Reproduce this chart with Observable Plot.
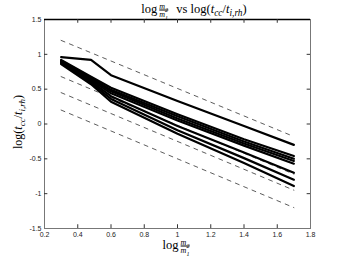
<!DOCTYPE html>
<html><head><meta charset="utf-8">
<script src="https://cdn.jsdelivr.net/npm/d3@7"></script>
<script src="https://cdn.jsdelivr.net/npm/@observablehq/plot@0.6"></script>
<style>
body{margin:0;background:#fff;}
#wrap{position:relative;width:342px;height:258px;overflow:hidden;}
.lbl{position:absolute;font-family:"Liberation Serif","DejaVu Serif",serif;color:#000;white-space:nowrap;line-height:1;}
.frac{display:inline-block;vertical-align:middle;text-align:center;font-size:8px;line-height:7px;margin:0 2px;}
.frac span{display:block;font-style:italic;}
.frac .num{border-bottom:0.8px solid #000;}
i{font-style:italic;}
sub{font-size:75%;vertical-align:-3px;line-height:0;}
</style></head><body><div id="wrap"></div>
<script>
const xTicks = [0.2, 0.4, 0.6, 0.8, 1, 1.2, 1.4, 1.6, 1.8];
const yTicks = [-1.5, -1, -0.5, 0, 0.5, 1, 1.5];
const massRatio = [0.3, 0.48, 0.6, 1.0, 1.4, 1.7];
const run1 = [0.96, 0.92, 0.70, 0.33, -0.03, -0.30];
const run2 = [0.92, 0.68, 0.52, 0.14, -0.22, -0.46];
const run3 = [0.91, 0.66, 0.49, 0.11, -0.25, -0.50];
const run4 = [0.90, 0.65, 0.47, 0.08, -0.28, -0.53];
const run5 = [0.89, 0.63, 0.44, 0.05, -0.31, -0.57];
const run6 = [0.88, 0.61, 0.40, -0.03, -0.41, -0.70];
const run7 = [0.87, 0.59, 0.36, -0.09, -0.49, -0.80];
const run8 = [0.86, 0.57, 0.32, -0.14, -0.56, -0.89];
const refX = [0.3, 1.7];
const ref1 = [1.2, -0.18];
const ref2 = [0.68, -0.72];
const ref3 = [0.45, -0.95];
const ref4 = [0.2, -1.2];

const runs = [run1, run2, run3, run4, run5, run6, run7, run8];
const refs = [ref1, ref2, ref3, ref4];
const runData = runs.flatMap((r, i) => r.map((v, j) => ({series: "run" + (i + 1), x: massRatio[j], y: v})));
const refData = refs.flatMap((r, i) => r.map((v, j) => ({series: "ref" + (i + 1), x: refX[j], y: v})));

const xd = [xTicks[0], xTicks[xTicks.length - 1]];
const yd = [yTicks[0], yTicks[yTicks.length - 1]];
const tx = (xd[1] - xd[0]) * 0.018;
const ty = (yd[1] - yd[0]) * 0.018;

const chart = Plot.plot({
  width: 342, height: 258,
  marginTop: 19, marginBottom: 30, marginLeft: 44, marginRight: 32,
  x: {domain: xd},
  y: {domain: yd},
  style: {fontFamily: "'Liberation Sans', Arial, sans-serif", fontSize: "7px", background: "white"},
  marks: [
    Plot.axisX(xTicks, {anchor: "bottom", tickSize: 0, tickPadding: 4, tickFormat: d => String(d), label: null, fontSize: 7, fill: "#222"}),
    Plot.axisY(yTicks, {anchor: "left", tickSize: 0, tickPadding: 3, tickFormat: d => String(d), label: null, fontSize: 7, fill: "#222"}),
    Plot.line(refData, {x: "x", y: "y", z: "series", stroke: "#333", strokeWidth: 0.8, strokeDasharray: "4,5"}),
    Plot.line(runData, {x: "x", y: "y", z: "series", stroke: "black", strokeWidth: 2.2, strokeLinejoin: "round"}),
    Plot.frame({stroke: "#777", strokeWidth: 1}),
    Plot.ruleY([yd[1]], {stroke: "black", strokeWidth: 1.6}),
    Plot.ruleX(xTicks.slice(1, -1), {x: d => d, y1: yd[0], y2: yd[0] + ty, stroke: "#333"}),
    Plot.ruleX(xTicks.slice(1, -1), {x: d => d, y1: yd[1], y2: yd[1] - ty, stroke: "#333"}),
    Plot.ruleY(yTicks.slice(1, -1), {y: d => d, x1: xd[0], x2: xd[0] + tx * 0.7, stroke: "#333"}),
    Plot.ruleY(yTicks.slice(1, -1), {y: d => d, x1: xd[1], x2: xd[1] - tx * 0.7, stroke: "#333"})
  ]
});
const wrap = document.getElementById("wrap");
wrap.appendChild(chart);

function addLabel(html, left, top, size, rotate) {
  const d = document.createElement("div");
  d.className = "lbl";
  d.innerHTML = html;
  d.style.fontSize = size + "px";
  d.style.left = left + "px";
  d.style.top = top + "px";
  d.style.transform = "translate(-50%,-50%)" + (rotate ? " rotate(-90deg)" : "");
  wrap.appendChild(d);
}
const frac = '<span class="frac"><span class="num">m<sub>2</sub></span><span>m<sub>1</sub></span></span>';
addLabel('log' + frac + '&nbsp; vs log(<i>t</i><sub><i>cc</i></sub>/<i>t</i><sub><i>i,rh</i></sub>)', 194, 10, 12.5, false);
addLabel('log' + frac, 177, 246, 12.5, false);
addLabel('log(<i>t</i><sub><i>cc</i></sub>/<i>t</i><sub><i>i,rh</i></sub>)', 18, 122, 12, true);
</script></body></html>
